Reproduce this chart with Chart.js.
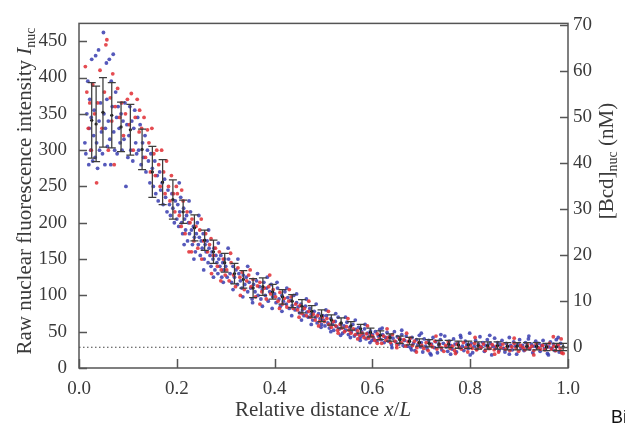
<!DOCTYPE html>
<html>
<head>
<meta charset="utf-8">
<script src="https://cdn.jsdelivr.net/npm/chart.js@4.4.0/dist/chart.umd.min.js"></script>
<style>
  html, body { margin: 0; padding: 0; background: #fff; }
  #wrap { width: 625px; height: 425px; position: relative; }
</style>
</head>
<body>
<div id="wrap"><canvas id="c"></canvas></div>
<script>
// axis ticks
const xTicks = [0, 0.2, 0.4, 0.6, 0.8, 1.0];
const leftTicks = [0, 50, 100, 150, 200, 250, 300, 350, 400, 450];
const rightTicks = [0, 10, 20, 30, 40, 50, 60, 70];

// binned means with error bars (raw intensity)
const barX = [0.026,0.035,0.049,0.067,0.086,0.105,0.129,0.15,0.171,0.192,0.213,0.236,0.257,0.275,0.298,0.318,0.336,0.356,0.376,0.396,0.416,0.436,0.456,0.476,0.496,0.516,0.536,0.556,0.576,0.596,0.616,0.636,0.656,0.676,0.696,0.716,0.736,0.756,0.776,0.796,0.816,0.836,0.856,0.876,0.896,0.916,0.936,0.956,0.976,0.99];
const barMean = [341,336,352,348,332,328,301,270,256,232,215,193,176,160,145,130,122,110,112,105,98,92,85,78,72,66,62,58,54,49,45,42,39,37,35,34,33,33,32,32,31,31,31,30,30,30,30,29,29,29];
const barErr = [52,52,48,45,34,35,28,35,31,27,16,18,14,16,13,14,12,13,12,10,10,9,9,8,8,7,7,6,6,6,6,5,5,5,5,5,5,5,5,5,5,5,5,5,5,5,5,5,5,5];

// individual nuclei, blue embryo
const bluePts = [
  [0.012,310],[0.014,295],[0.016,350],[0.018,395],[0.02,280],[0.021,330],[0.022,370],[0.024,300],[0.025,345],[0.026,425],
  [0.028,285],[0.03,320],[0.031,355],[0.033,290],[0.034,430],[0.036,310],[0.038,275],[0.04,438],[0.041,340],[0.042,300],
  [0.044,365],[0.046,325],[0.048,295],[0.05,462],[0.051,350],[0.053,280],[0.054,330],[0.056,420],[0.057,370],[0.058,305],
  [0.06,340],[0.062,425],[0.063,315],[0.065,280],[0.066,395],[0.068,360],[0.07,432],[0.071,325],[0.073,300],[0.075,380],
  [0.077,345],[0.078,295],[0.08,360],[0.082,330],[0.084,310],[0.086,350],[0.088,300],[0.09,340],[0.092,315],[0.094,365],
  [0.096,250],[0.098,335],[0.1,290],[0.102,320],[0.104,360],[0.106,300],[0.108,340],[0.11,285],[0.112,330],[0.114,355],
  [0.116,310],[0.118,295],[0.12,345],
  [0.122,300],[0.125,335],[0.127,280],[0.13,310],[0.132,290],[0.135,320],[0.137,270],[0.14,300],[0.142,285],[0.145,255],
  [0.147,295],[0.15,275],[0.152,250],[0.155,285],[0.157,240],[0.16,265],[0.162,230],[0.165,270],[0.167,245],[0.17,255],
  [0.172,225],[0.175,260],[0.177,235],[0.18,215],[0.182,245],[0.185,225],[0.187,210],[0.19,240],[0.192,220],[0.195,200],[0.197,230],
  [0.2,205],[0.202,225],[0.204,195],[0.206,215],[0.208,235],[0.21,200],[0.212,185],[0.214,220],[0.216,205],[0.218,190],
  [0.22,210],[0.222,175],[0.224,200],[0.226,185],[0.228,215],[0.23,190],[0.232,170],[0.234,195],[0.236,180],[0.238,160],
  [0.24,185],[0.242,200],[0.244,170],[0.246,180],[0.248,155],[0.25,175],[0.252,165],[0.254,185],[0.256,150],[0.258,170],
  [0.26,160],[0.262,175],[0.264,145],[0.266,165],[0.268,155],[0.27,140],[0.272,160],[0.274,150],[0.276,165],[0.278,135],
  [0.28,155],[0.282,145],[0.284,130],[0.286,150],[0.288,140],[0.29,155],[0.292,125],[0.294,145],[0.296,135],[0.298,150],
  [0.3,140],[0.303,125],[0.306,150],[0.309,130],[0.312,118],[0.315,140],[0.318,125],[0.321,135],[0.324,115],[0.327,130],
  [0.33,120],[0.333,110],[0.336,128],[0.339,115],[0.342,125],[0.345,105],[0.348,118],[0.351,110],[0.354,95],[0.357,115],
  [0.36,105],[0.363,120],[0.366,100],[0.369,112],[0.372,95],[0.375,108],[0.378,118],[0.381,100],[0.384,110],[0.387,92],
  [0.39,105],[0.393,115],[0.396,98],
  [0.4,102],[0.403,90],[0.406,110],[0.409,95],[0.412,85],[0.415,100],[0.418,92],[0.421,105],[0.424,88],[0.427,97],
  [0.43,82],[0.433,93],[0.436,86],[0.439,100],[0.442,80],[0.445,90],[0.448,84],[0.451,76],[0.454,88],[0.457,80],
  [0.46,72],[0.463,85],[0.466,77],[0.469,70],[0.472,82],[0.475,74],[0.478,66],[0.481,78],[0.484,70],[0.487,62],
  [0.49,75],[0.493,68],[0.496,60],[0.499,72],
  [0.5,66],[0.503,58],[0.506,72],[0.509,62],[0.512,55],[0.515,68],[0.518,60],[0.521,52],[0.524,64],[0.527,57],
  [0.53,70],[0.533,54],[0.536,61],[0.539,48],[0.542,58],[0.545,52],[0.548,63],[0.551,46],[0.554,56],[0.557,50],
  [0.56,60],[0.563,44],[0.566,53],[0.569,47],[0.572,56],[0.575,42],[0.578,50],[0.581,45],[0.584,54],[0.587,40],
  [0.59,48],[0.593,43],[0.596,51],[0.599,38],
  [0.6,46],[0.603,40],[0.606,50],[0.609,37],[0.612,44],[0.615,53],[0.618,39],[0.621,46],[0.624,35],[0.627,42],
  [0.63,49],[0.633,37],[0.636,44],[0.639,32],[0.642,41],[0.645,50],[0.648,36],[0.651,43],[0.654,33],[0.657,40],
  [0.66,46],[0.663,31],[0.666,38],[0.669,44],[0.672,30],[0.675,37],[0.678,28],[0.681,42],[0.684,34],[0.687,24],
  [0.69,39],[0.693,32],[0.696,45],[0.699,29],
  [0.7,35],[0.703,22],[0.706,40],[0.709,30],[0.712,26],[0.715,38],[0.718,20],[0.721,33],[0.724,42],[0.727,28],
  [0.73,36],[0.733,21],[0.736,31],[0.739,39],[0.742,25],[0.745,34],[0.748,44],[0.751,29],[0.754,23],[0.757,37],
  [0.76,31],[0.763,26],[0.766,40],[0.769,33],[0.772,22],[0.775,35],[0.778,28],[0.781,42],[0.784,30],[0.787,24],
  [0.79,37],[0.793,32],[0.796,27],[0.799,48],[0.802,34],[0.805,21],[0.808,30],[0.811,38],[0.814,26],[0.817,33],
  [0.82,43],[0.823,29],[0.826,35],[0.829,23],[0.832,31],[0.835,39],[0.838,27],[0.841,34],[0.844,18],[0.847,30],
  [0.85,41],[0.853,28],[0.856,35],[0.859,24],[0.862,32],[0.865,38],[0.868,27],[0.871,22],[0.874,34],[0.877,29],
  [0.88,42],[0.883,31],[0.886,25],[0.889,36],[0.892,30],[0.895,19],[0.898,33],[0.901,39],[0.904,27],[0.907,31],
  [0.91,24],[0.913,35],[0.916,29],[0.919,40],[0.922,26],[0.925,33],[0.928,21],[0.931,30],[0.934,37],[0.937,28],
  [0.94,34],[0.943,23],[0.946,31],[0.949,38],[0.952,26],[0.955,32],[0.958,20],[0.961,29],[0.964,36],[0.967,27],
  [0.97,33],[0.973,24],[0.976,39],[0.979,30],[0.982,22],[0.985,34],
  // wider-spread nuclei
  [0.205,255],[0.215,170],[0.225,230],[0.235,150],[0.245,210],[0.255,135],[0.265,190],[0.275,125],[0.285,172],[0.295,118],
  [0.305,165],[0.315,108],[0.325,150],[0.335,98],[0.345,140],[0.355,90],[0.365,130],[0.375,85],[0.385,125],[0.395,82],
  [0.405,118],[0.415,78],[0.425,110],[0.435,72],[0.445,102],[0.455,66],[0.465,95],[0.475,60],[0.485,88],[0.495,56],
  [0.505,80],[0.515,50],[0.525,75],[0.535,45],[0.545,70],[0.555,42],[0.565,66],[0.575,38],[0.585,60],[0.595,35],
  [0.62,55],[0.64,28],[0.66,52],[0.68,25],[0.7,48],[0.72,18],[0.74,46],[0.76,19],[0.78,45],[0.8,18],
  [0.84,45],[0.88,19],[0.92,44],[0.96,18],[0.98,42]
];

// individual nuclei, red embryo
const redPts = [
  [0.013,415],[0.016,380],[0.019,330],[0.022,365],[0.025,300],[0.028,390],[0.032,350],[0.036,255],[0.038,365],[0.043,410],
  [0.047,330],[0.052,380],[0.055,445],[0.057,452],[0.06,300],[0.064,372],[0.067,340],[0.069,405],[0.072,280],[0.074,360],
  [0.079,385],[0.083,345],[0.087,365],[0.091,320],[0.095,350],[0.099,370],[0.103,335],[0.107,378],[0.111,300],[0.115,345],
  [0.119,370],[0.123,325],
  [0.124,355],[0.128,330],[0.133,345],[0.136,290],[0.14,328],[0.143,310],[0.146,270],[0.149,330],[0.153,295],[0.156,265],
  [0.159,300],[0.163,280],[0.166,250],[0.169,300],[0.173,270],[0.176,240],[0.179,285],[0.183,250],[0.186,230],[0.189,265],
  [0.193,240],[0.196,215],[0.199,250],
  [0.201,240],[0.205,210],[0.209,195],[0.213,230],[0.217,185],[0.221,215],[0.225,160],[0.227,200],[0.231,205],[0.235,175],
  [0.239,195],[0.243,165],[0.247,190],[0.251,150],[0.255,175],[0.259,185],[0.263,160],[0.267,170],[0.271,130],[0.275,155],
  [0.279,165],[0.283,140],[0.287,160],[0.291,135],[0.295,150],[0.299,128],
  [0.302,135],[0.307,120],[0.311,145],[0.316,128],[0.32,112],[0.325,138],[0.329,125],[0.334,132],[0.338,108],[0.343,120],
  [0.347,128],[0.352,112],[0.356,122],[0.361,98],[0.365,113],[0.37,118],[0.374,105],[0.379,110],[0.383,95],[0.388,112],
  [0.392,102],[0.397,108],
  [0.402,98],[0.407,92],[0.411,104],[0.416,88],[0.42,96],[0.425,84],[0.429,92],[0.434,98],[0.438,82],[0.443,88],
  [0.447,80],[0.452,86],[0.456,75],[0.461,82],[0.465,72],[0.47,78],[0.474,70],[0.479,74],[0.483,66],[0.488,72],
  [0.492,64],[0.497,70],
  [0.502,64],[0.507,68],[0.511,60],[0.516,56],[0.52,64],[0.525,58],[0.529,52],[0.534,60],[0.538,55],[0.543,50],
  [0.547,57],[0.552,52],[0.556,48],[0.561,54],[0.565,46],[0.57,51],[0.574,45],[0.579,48],[0.583,42],[0.588,47],
  [0.592,41],[0.597,45],
  [0.601,43],[0.605,38],[0.61,47],[0.614,40],[0.619,34],[0.623,44],[0.628,38],[0.632,42],[0.637,35],[0.641,46],
  [0.646,37],[0.65,32],[0.655,41],[0.659,35],[0.664,39],[0.668,30],[0.673,36],[0.677,41],[0.682,31],[0.686,37],
  [0.691,28],[0.695,35],
  [0.701,31],[0.705,27],[0.71,35],[0.714,24],[0.719,32],[0.723,29],[0.728,37],[0.732,26],[0.737,33],[0.741,28],
  [0.746,23],[0.75,31],[0.755,36],[0.759,27],[0.764,30],[0.768,24],[0.773,33],[0.777,29],[0.782,26],[0.786,35],
  [0.791,28],[0.795,22],[0.8,31],[0.804,27],[0.809,34],[0.813,25],[0.818,30],[0.822,28],[0.827,33],[0.831,24],
  [0.836,29],[0.84,27],[0.845,32],[0.849,25],[0.854,30],[0.858,22],[0.863,28],[0.867,33],[0.872,26],[0.876,30],
  [0.881,24],[0.885,29],[0.89,34],[0.894,27],[0.899,23],[0.903,31],[0.908,28],[0.912,25],[0.917,32],[0.921,27],
  [0.926,30],[0.93,24],[0.935,33],[0.939,28],[0.944,26],[0.948,31],[0.953,25],[0.957,29],[0.962,34],[0.966,26],
  [0.971,30],[0.975,24],[0.98,32],[0.984,27],[0.986,40],[0.987,21],
  // wider-spread nuclei
  [0.21,245],[0.23,160],[0.25,205],[0.27,178],[0.29,120],[0.31,158],[0.33,100],[0.35,135],[0.37,88],[0.39,128],
  [0.41,82],[0.43,108],[0.45,70],[0.47,92],[0.49,58],[0.51,78],[0.53,48],[0.55,68],[0.57,40],[0.59,58],
  [0.61,34],[0.63,54],[0.65,28],[0.67,48],[0.69,22],[0.73,44],[0.77,20],[0.81,42],[0.85,19],[0.89,41],
  [0.93,18],[0.97,43],[0.99,20]
];

// zero level of the calibrated axis (nM)
const zeroLine = [[0, 0], [1, 0]];

const SERIF = '"Liberation Serif", "DejaVu Serif", serif';
const INK = '#3a3a3a';
const FRAME = '#555';

function toXY(arr) { return arr.map(p => ({ x: p[0], y: p[1] })); }

// frame, inward ticks, error bars and axis titles
const decorPlugin = {
    id: 'decor',
    afterDatasetsDraw(chart) {
        const ctx = chart.ctx;
        const xs = chart.scales.x, ys = chart.scales.y;
        ctx.save();
        ctx.strokeStyle = '#3c3c3c';
        ctx.lineWidth = 1.25;
        for (let i = 0; i < barX.length; i++) {
            const px = xs.getPixelForValue(barX[i]);
            const top = ys.getPixelForValue(barMean[i] + barErr[i]);
            const bot = ys.getPixelForValue(barMean[i] - barErr[i]);
            ctx.beginPath();
            ctx.moveTo(px, top); ctx.lineTo(px, bot);
            ctx.moveTo(px - 4, top); ctx.lineTo(px + 4, top);
            ctx.moveTo(px - 4, bot); ctx.lineTo(px + 4, bot);
            ctx.stroke();
        }
        ctx.restore();
    },
    afterDraw(chart) {
        const ctx = chart.ctx;
        const a = chart.chartArea;
        const xs = chart.scales.x, ys = chart.scales.y, y1 = chart.scales.y1;
        ctx.save();
        ctx.strokeStyle = FRAME;
        ctx.lineWidth = 1.5;
        ctx.strokeRect(a.left, a.top, a.right - a.left, a.bottom - a.top);

        ctx.beginPath();
        leftTicks.forEach(v => {
            const py = Math.round(ys.getPixelForValue(v)) + 0.5;
            ctx.moveTo(a.left, py); ctx.lineTo(a.left + 8, py);
        });
        rightTicks.forEach(v => {
            const py = Math.round(y1.getPixelForValue(v)) + 0.5;
            ctx.moveTo(a.right, py); ctx.lineTo(a.right - 8, py);
        });
        xTicks.forEach(v => {
            const px = Math.round(xs.getPixelForValue(v)) + 0.5;
            ctx.moveTo(px, a.bottom); ctx.lineTo(px, a.bottom - 9);
        });
        ctx.stroke();

        ctx.fillStyle = INK;
        ctx.textBaseline = 'alphabetic';

        // left title
        ctx.save();
        ctx.translate(31, 191);
        ctx.rotate(-Math.PI / 2);
        drawRich(ctx, [
            { t: 'Raw nuclear fluorescence intensity ', f: '21px ' + SERIF },
            { t: 'I', f: 'italic 21px ' + SERIF },
            { t: 'nuc', f: '14px ' + SERIF, dy: 4 }
        ]);
        ctx.restore();

        // right title
        ctx.save();
        ctx.translate(613, 161);
        ctx.rotate(-Math.PI / 2);
        drawRich(ctx, [
            { t: '[Bcd]', f: '21px ' + SERIF },
            { t: 'nuc', f: '14px ' + SERIF, dy: 4 },
            { t: ' (nM)', f: '21px ' + SERIF }
        ]);
        ctx.restore();

        // bottom title
        ctx.save();
        ctx.translate(323, 416);
        drawRich(ctx, [
            { t: 'Relative distance ', f: '21px ' + SERIF },
            { t: 'x', f: 'italic 21px ' + SERIF },
            { t: '/', f: '21px ' + SERIF },
            { t: 'L', f: 'italic 21px ' + SERIF }
        ]);
        ctx.restore();

        // stray caption fragment at the page edge
        ctx.fillStyle = '#111';
        ctx.font = '18px "Liberation Sans", Arial, sans-serif';
        ctx.textAlign = 'left';
        ctx.fillText('Bi', 611, 423);
        ctx.restore();
    }
};

// draws text runs centred on the origin
function drawRich(ctx, runs) {
    let total = 0;
    runs.forEach(r => { ctx.font = r.f; r.w = ctx.measureText(r.t).width; total += r.w; });
    let x = -total / 2;
    ctx.textAlign = 'left';
    runs.forEach(r => {
        ctx.font = r.f;
        ctx.fillText(r.t, x, r.dy || 0);
        x += r.w;
    });
}

function fixTicks(list) {
    return function(scale) { scale.ticks = list.map(v => ({ value: v })); };
}

new Chart(document.getElementById('c'), {
    type: 'scatter',
    data: {
        datasets: [
            {
                type: 'line',
                data: toXY(zeroLine),
                yAxisID: 'y1',
                borderColor: '#444',
                borderWidth: 1.2,
                borderDash: [1.5, 2.5],
                pointRadius: 0,
                order: 10
            },
            {
                data: toXY(bluePts),
                backgroundColor: 'rgba(55,60,175,0.85)',
                borderWidth: 0,
                pointRadius: 1.9,
                order: 6
            },
            {
                data: toXY(redPts),
                backgroundColor: 'rgba(225,45,50,0.85)',
                borderWidth: 0,
                pointRadius: 1.9,
                order: 5
            },
            {
                data: barX.map((x, i) => ({ x: x, y: barMean[i] })),
                backgroundColor: '#111',
                borderWidth: 0,
                pointRadius: 1.6,
                order: 1
            }
        ]
    },
    options: {
        responsive: true,
        maintainAspectRatio: false,
        animation: false,
        layout: { padding: { top: 14, left: 0, right: 0, bottom: 0 } },
        plugins: { legend: { display: false }, tooltip: { enabled: false } },
        scales: {
            x: {
                type: 'linear', min: 0, max: 1,
                afterBuildTicks: fixTicks(xTicks),
                afterFit: s => { s.height = 57; },
                grid: { display: false, drawTicks: false },
                border: { display: false },
                ticks: {
                    padding: 10, color: INK,
                    font: { family: SERIF, size: 19 },
                    callback: v => Number(v).toFixed(1)
                }
            },
            y: {
                type: 'linear', position: 'left', min: 0, max: 474.5,
                afterBuildTicks: fixTicks(leftTicks),
                afterFit: s => { s.width = 79; },
                grid: { display: false, drawTicks: false },
                border: { display: false },
                ticks: { padding: 12, color: INK, font: { family: SERIF, size: 19 } }
            },
            y1: {
                type: 'linear', position: 'right', min: -4.51, max: 70.42,
                afterBuildTicks: fixTicks(rightTicks),
                afterFit: s => { s.width = 57; },
                grid: { display: false, drawTicks: false },
                border: { display: false },
                ticks: { padding: 5, color: INK, font: { family: SERIF, size: 19 } }
            }
        }
    },
    plugins: [decorPlugin]
});
</script>
</body>
</html>
